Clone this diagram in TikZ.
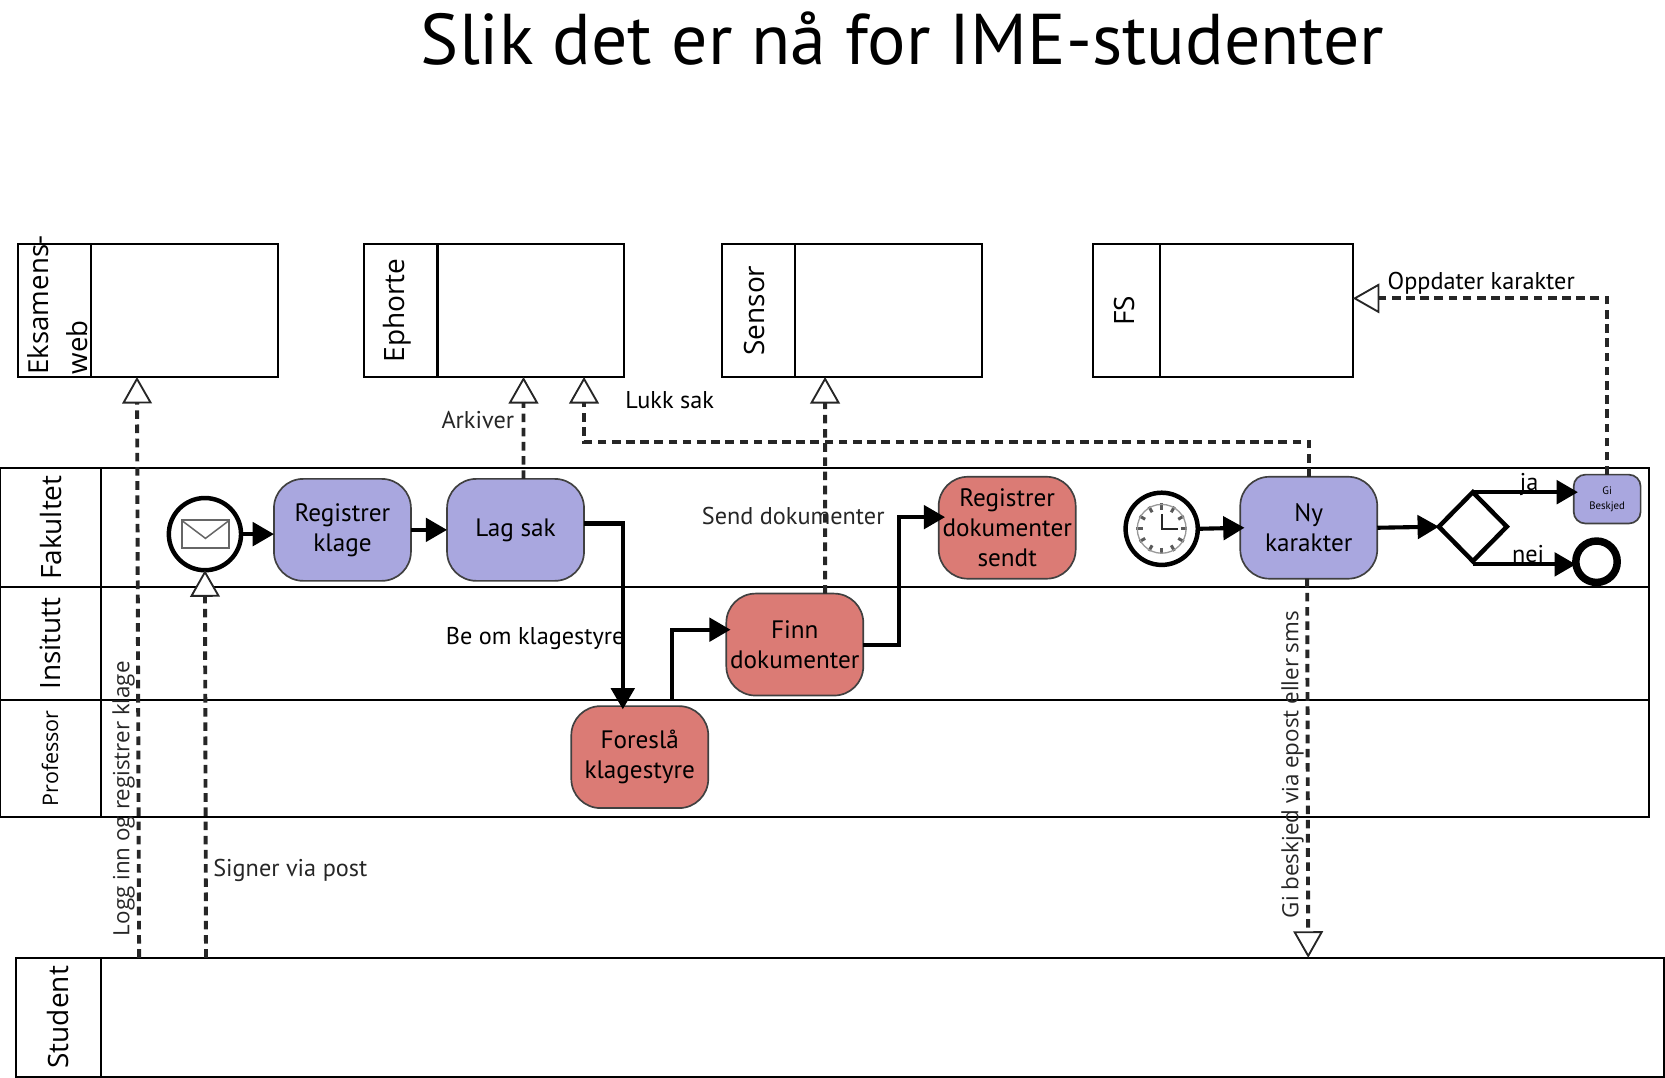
\documentclass[tikz,border=0pt]{standalone}
\usepackage{fontspec}
\setmainfont{PT Sans}
\newfontfamily\lanefont{Open Sans}
\usepackage{xcolor}
\usetikzlibrary{positioning, arrows.meta, shapes.geometric}
\definecolor{taskblue}{HTML}{A9A7DF}
\definecolor{taskred}{HTML}{DB7B75}

\begin{document}
\begin{tikzpicture}[
  every node/.style={font=\fontsize{13.5}{16}\selectfont, align=center},
  lane/.style={draw, line width=1.1pt, outer sep=0pt, minimum width=31.06cm, minimum height=#1, inner sep=0pt},
  pool/.style={draw, line width=1.1pt, outer sep=0pt, minimum width=4.9cm, minimum height=2.5cm, inner sep=0pt},
  lanename/.style={rotate=90, inner sep=0pt, font=\lanefont\fontsize{#1}{21}\selectfont},
  lanename/.default=15,
  sidetext/.style={rotate=90, above, inner sep=1pt, font=\lanefont\fontsize{12}{15}\selectfont},
  flowtext/.style={inner sep=2pt, font=\fontsize{13}{16}\selectfont},
  task/.style={draw=black!75, line width=0.9pt, outer sep=0pt, rounded corners=0.55cm, fill=#1, minimum width=2.58cm, minimum height=1.92cm, inner sep=0pt},
  task/.default=taskblue,
  event/.style={draw, circle, line width=2.4pt, outer sep=0pt, minimum size=1.36cm, inner sep=0pt, fill=white},
  gate/.style={draw, diamond, line width=2.4pt, outer sep=0pt, minimum width=1.28cm, minimum height=1.3cm, inner sep=0pt, fill=white},
  flow/.style={->, line width=2.2pt, >={Triangle[length=0.4cm, width=0.44cm]}},
  msg/.style={-{Triangle[open, fill=white, length=0.5cm, width=0.56cm, line width=1pt]}, line width=2.1pt, black!85, dash pattern=on 4.6pt off 3pt},
]
\useasboundingbox (0,0) rectangle (31.36,-20.3);

% Title
\node[font=\fontsize{38.5}{46}\selectfont] (title) at (17.0,-0.72) {Slik det er nå for IME-studenter};

% Top row: systems
\node[pool, anchor=north west] (eksamen) at (0.34,-4.6) {};
\node[pool, right=1.62cm of eksamen] (ephorte) {};
\node[pool, right=1.84cm of ephorte] (sensor) {};
\node[pool, right=2.08cm of sensor] (fs) {};
\foreach \poolname/\headwidth in {eksamen/1.38, ephorte/1.38, sensor/1.38, fs/1.26}
  \draw[line width=1.1pt] ([xshift=\headwidth cm]\poolname.north west) -- ([xshift=\headwidth cm]\poolname.south west);
\node[lanename, anchor=west, align=left, font=\lanefont\fontsize{14.8}{21}\selectfont] (eksamenname) at ([xshift=0.74cm,yshift=0.04cm]eksamen.south west) {Eksamens-\\web};
\node[lanename] (ephortename) at ([xshift=0.62cm]ephorte.west) {Ephorte};
\node[lanename] (sensorname) at ([xshift=0.62cm]sensor.west) {Sensor};
\node[lanename] (fsname) at ([xshift=0.6cm]fs.west) {FS};

% Lanes
\node[lane=2.24cm, anchor=north west] (fakultet) at (0,-8.82) {};
\node[lane=2.12cm, below=0cm of fakultet] (insitutt) {};
\node[lane=2.2cm, below=0cm of insitutt] (professor) {};
\node[lane=2.24cm, minimum width=31.04cm, anchor=north west] (student) at (0.3,-18.04) {};
\foreach \lanename/\headwidth in {fakultet/1.9, insitutt/1.9, professor/1.9, student/1.6}
  \draw[line width=1.1pt] ([xshift=\headwidth cm]\lanename.north west) -- ([xshift=\headwidth cm]\lanename.south west);
\node[lanename] (fakultetname) at ([xshift=0.96cm]fakultet.west) {Fakultet};
\node[lanename] (insituttname) at ([xshift=0.94cm]insitutt.west) {Insitutt};
\node[lanename=11.5] (professorname) at ([xshift=0.94cm]professor.west) {Professor};
\node[lanename] (studentname) at ([xshift=0.8cm]student.west) {Student};

% Fakultet, left part
\node[event] (start) at (3.86,-10.06) {};
\node[task, right=0.62cm of start, yshift=0.08cm] (registrer) {Registrer\\klage};
\node[task, right=0.68cm of registrer] (lagsak) {Lag sak};

% Institutt and Professor
\node[task=taskred, right=2.68cm of lagsak, yshift=-2.16cm] (finn) {Finn\\dokumenter};
\node[task=taskred, left=0.34cm of finn, yshift=-2.12cm] (foreslaa) {Foreslå\\klagestyre};

% Fakultet, right part
\node[task=taskred, right=1.42cm of finn, yshift=2.2cm] (regdok) {Registrer\\dokumenter\\sendt};
\node[event, right=0.94cm of regdok, yshift=-0.02cm] (timer) {};
\node[task, right=0.8cm of timer, yshift=0.02cm] (ny) {Ny\\karakter};
\node[gate, right=1.16cm of ny, yshift=0.02cm] (gateway) {};
\node[task, right=1.26cm of gateway, yshift=0.52cm, minimum width=1.26cm, minimum height=0.92cm, rounded corners=0.22cm, font=\fontsize{5.8}{8}\selectfont] (gibeskjed) {Gi\\Beskjed};
\node[draw, circle, line width=4pt, outer sep=0pt, minimum size=0.78cm, inner sep=0pt, fill=white, right=1.3cm of gateway, yshift=-0.66cm] (endevent) {};

% Icons
\draw[black!60, line width=1pt, fill=white] ([xshift=-0.44cm,yshift=0.26cm]start.center) rectangle ([xshift=0.46cm,yshift=-0.26cm]start.center);
\draw[black!60, line width=0.8pt] ([xshift=-0.44cm,yshift=0.26cm]start.center) -- ([xshift=0.01cm,yshift=-0.08cm]start.center) -- ([xshift=0.46cm,yshift=0.26cm]start.center);
\foreach \ang in {0,30,...,330}
  \draw[black!65, line width=1.6pt] (timer.center) ++(\ang:0.36cm) -- ++(\ang:0.12cm);
\draw[black!40, line width=0.7pt] (timer.center) circle (0.46cm);
\draw[black!85, line width=1.1pt] ([yshift=0.28cm]timer.center) -- (timer.center) -- ([xshift=0.3cm]timer.center);

% Sequence flows
\draw[flow] (start.east) -- (start.east -| registrer.west);
\draw[flow] (registrer.east) -- (lagsak.west);
\draw[flow] ([yshift=0.12cm]lagsak.east) -| ([xshift=-0.32cm,yshift=-0.06cm]foreslaa.north);
\draw[flow] ([xshift=0.6cm,yshift=0.12cm]foreslaa.north) |- ([xshift=0.08cm,yshift=0.28cm]finn.west);
\draw[flow] (finn.east) -- ++(0.68,0) |- ([xshift=0.12cm,yshift=0.2cm]regdok.west);
\draw[flow] (timer.east) -- ([xshift=0.08cm]ny.west);
\draw[flow] (ny.east) -- (gateway.west);
\draw[flow] (gateway.north) -- node[above, flowtext, yshift=-5pt, xshift=2pt] (ja) {ja} ([xshift=0.08cm]gateway.north -| gibeskjed.west);
\draw[flow] ([yshift=-0.06cm]gateway.south) -- node[above, flowtext, yshift=-2pt, xshift=2pt] (nei) {nei} ([yshift=-0.06cm]gateway.south -| endevent.west);

% Message flows
\draw[msg] ([xshift=2.32cm]student.north west) -- node[sidetext, pos=0.274] (logginn) {Logg inn og registrer klage} ([xshift=2.24cm]eksamen.south west);
\draw[msg] ([xshift=3.58cm]student.north west) -- node[right, flowtext, pos=0.225, xshift=1pt] (signer) {Signer via post} (start.south);
\draw[msg] ([xshift=0.15cm]lagsak.north) -- node[left, flowtext, pos=0.58, xshift=-2pt] (arkiver) {Arkiver} ([xshift=3cm]ephorte.south west);
\draw[msg] (ny.north) -- ++(0,0.66) -| ([xshift=4.14cm]ephorte.south west);
\draw[msg] ([xshift=0.57cm]finn.north) -- node[flowtext, pos=0.36, xshift=-0.6cm] (senddok) {Send dokumenter} ([xshift=1.94cm]sensor.south west);
\draw[msg] ([xshift=-0.03cm]ny.south) -- node[sidetext, pos=0.49] (gibeskjedtext) {Gi beskjed via epost eller sms} ([xshift=24.34cm]student.north west);
\draw[msg] (gibeskjed.north) |- ([yshift=0.23cm]fs.east);

% Free labels
\node[flowtext, anchor=west] (lukksak) at ([xshift=-0.06cm,yshift=-0.44cm]ephorte.south east) {Lukk sak};
\node[flowtext, anchor=east] (beom) at ([xshift=1.08cm,yshift=1.28cm]foreslaa.north west) {Be om klagestyre};
\node[flowtext, anchor=west] (oppdater) at ([xshift=0.58cm,yshift=0.52cm]fs.east) {Oppdater karakter};
\end{tikzpicture}
\end{document}
